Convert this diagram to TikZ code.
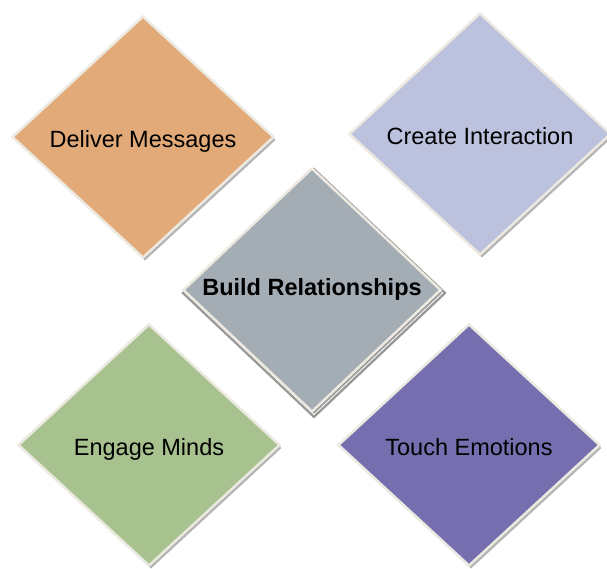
\documentclass[tikz,border=0pt]{standalone}
\usepackage{fontspec}
\setmainfont{Liberation Sans}
\usetikzlibrary{shapes.geometric,shadows}

\definecolor{edgecol}{HTML}{ECE9E0}
\definecolor{shadowcol}{HTML}{B4B4B4}
\definecolor{orangefill}{HTML}{E2AA78}
\definecolor{lilacfill}{HTML}{BCC2DD}
\definecolor{greyfill}{HTML}{A4ACB4}
\definecolor{greenfill}{HTML}{A8C28F}
\definecolor{purplefill}{HTML}{756FAF}

\tikzset{
  tile/.style={diamond, draw=edgecol, line width=2.5pt, inner sep=0pt,
    minimum width=262pt, minimum height=242pt,
    font=\fontsize{23.5}{26}\selectfont, text height=21pt, text depth=0pt,
    drop shadow={shadow xshift=2pt, shadow yshift=-3pt, fill=shadowcol, opacity=1}},
  hubtile/.style={tile, font=\fontsize{23.5}{26}\selectfont\bfseries,
    text height=17pt, text depth=6pt,
    minimum width=258pt, minimum height=244pt,
    drop shadow={shadow xshift=2pt, shadow yshift=-3pt, fill=white, opacity=1,
      draw=gray!80, double=white, double distance=0.8pt}}
}

\begin{document}
\begin{tikzpicture}[x=1pt,y=-1pt]
  \useasboundingbox (0,0) rectangle (607,569);

  % --- quattro angoli ---
  \node[tile, fill=orangefill] (deliver) at (143,137) {Deliver Messages};
  \node[tile, fill=lilacfill]  (create)  at (480,134) {Create Interaction};
  \node[tile, fill=greenfill]  (engage)  at (149,445) {Engage Minds};
  \node[tile, fill=purplefill] (touch)   at (469,445) {Touch Emotions};

  % --- centro ---
  \node[hubtile, fill=greyfill] (build) at (312,290) {Build Relationships};

\end{tikzpicture}
\end{document}
